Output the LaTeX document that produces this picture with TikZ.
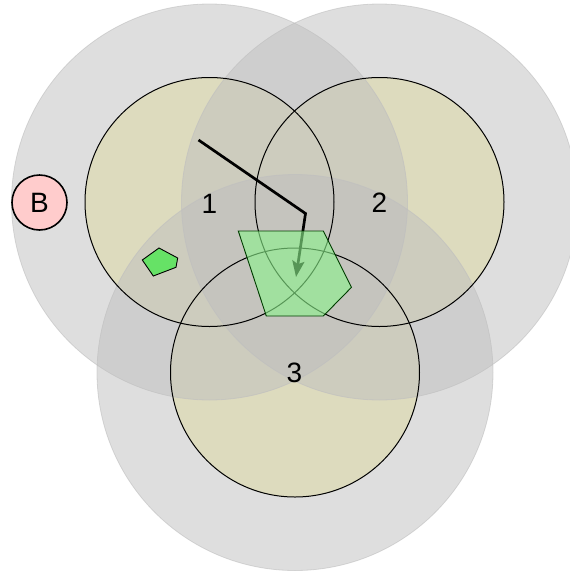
\documentclass[tikz,border=0pt]{standalone}
\usepackage{fontspec}
\setmainfont{Liberation Sans}
\usetikzlibrary{arrows.meta}
\definecolor{khaki}{RGB}{254,249,192}
\definecolor{outergray}{RGB}{190,190,190}
\definecolor{polygreen}{RGB}{140,242,140}
\definecolor{smallgreen}{RGB}{102,226,102}
\definecolor{bpink}{RGB}{255,204,204}
\tikzset{
  innerfill/.style={fill=khaki},
  outerzone/.style={fill=outergray, fill opacity=0.5, draw=outergray, draw opacity=0.6, line width=0.8pt},
  innerring/.style={draw=black, line width=1pt},
  label/.style={inner sep=0pt, font=\fontsize{28}{30}\selectfont},
  bignode/.style={circle, draw=black, line width=1.6pt, fill=bpink, minimum size=55pt, inner sep=0pt, font=\fontsize{28}{30}\selectfont},
  pathline/.style={draw=black, line width=2.7pt, -{Stealth[length=16pt,width=12pt,inset=3pt]}},
  bigpoly/.style={fill=polygreen, fill opacity=0.62, draw=black!60!green!60!black, line width=0.9pt},
  smallpoly/.style={fill=smallgreen, draw=black, line width=0.9pt}
}
\begin{document}
\begin{tikzpicture}[x=1pt,y=-1pt]
\useasboundingbox (0,0) rectangle (570,571);
\coordinate (c1) at (209.5,202);
\coordinate (c2) at (379.5,202);
\coordinate (c3) at (295,372.5);
% inner circle fills
\fill[innerfill] (c1) circle (124.5);
\fill[innerfill] (c2) circle (124.5);
\fill[innerfill] (c3) circle (124.5);
% outer zones
\path[outerzone] (c1) circle (198);
\path[outerzone] (c2) circle (198);
\path[outerzone] (c3) circle (198);
% inner rings
\draw[innerring] (c1) circle (124.5);
\draw[innerring] (c2) circle (124.5);
\draw[innerring] (c3) circle (124.5);
% path with arrow
\coordinate (p0) at (198.5,140);
\coordinate (p1) at (305.5,213.5);
\coordinate (p2) at (296,277);
\draw[pathline] (p0) -- (p1) -- (p2);
% polygons
\path[bigpoly] (238.3,231) -- (323.3,231) -- (351.5,287.3) -- (323.3,316) -- (266.3,316) -- cycle;
\path[smallpoly] (142.3,260) -- (159,248) -- (177.7,258) -- (176,267.3) -- (153.3,276) -- cycle;
% labels
\node[label] (l1) at (209.5,203.5) {1};
\node[label] (l2) at (379.5,203) {2};
\node[label] (l3) at (294.5,373) {3};
\node[bignode] (B) at (39.5,202.5) {B};
\end{tikzpicture}
\end{document}
